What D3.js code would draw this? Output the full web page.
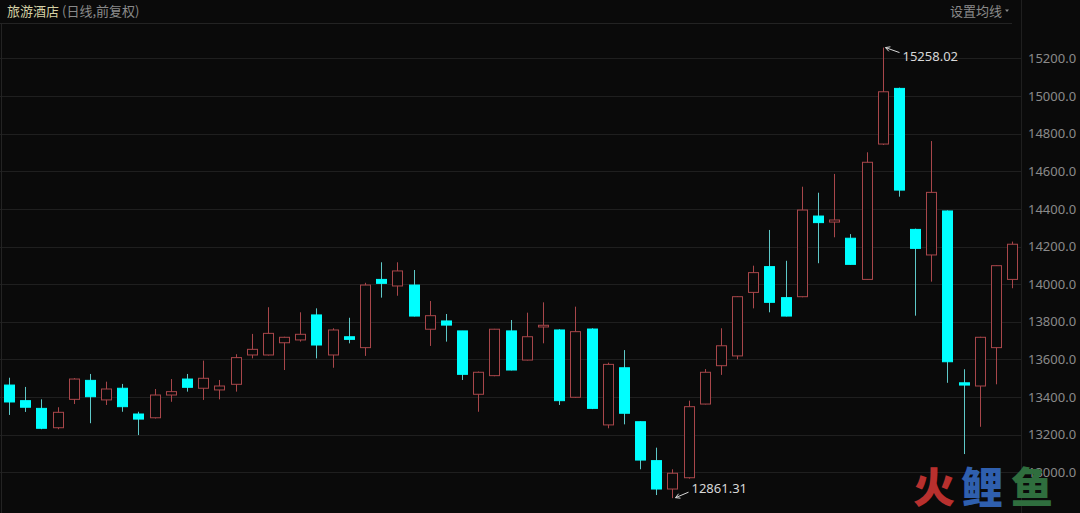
<!DOCTYPE html>
<html>
<head>
<meta charset="utf-8">
<script src="https://cdn.jsdelivr.net/npm/d3@7/dist/d3.min.js"></script>
<style>
  html, body { margin: 0; padding: 0; background: #0a0a0a; }
  svg { display: block; }
</style>
</head>
<body>
<svg id="chart" width="1080" height="513"></svg>
<script>
// ---- data ----
const days = d3.range(1, 64).map(i => "D" + i);
const open  = [13463,13380,13339,13236,13387,13488,13384,13446,13309,13289,13410,13495,13446,13437,13467,13623,13623,13688,13703,13836,13623,13720,13662,14025,13990,13995,13760,13804,13751,13414,13513,13751,13596,13772,13756,13398,13761,13251,13555,13268,13061,12910,12970,13362,13566,13618,13956,14093,13928,13933,14362,14330,14244,14025,14745,15041,14291,14155,14389,13475,13458,13662,14025];
const high  = [13502,13453,13387,13345,13500,13522,13481,13469,13321,13442,13495,13522,13593,13490,13627,13735,13877,13720,13850,13871,13765,13821,14007,14116,14116,14075,13910,13841,13751,13535,13762,13809,13848,13903,13760,13880,13765,13582,13649,13270,13130,13015,13380,13548,13765,13935,14098,14288,14124,14518,14486,14586,14266,14701,15258.02,15045,14295,14761,14392,13547,13720,14100,14226];
const low   = [13304,13320,13228,13228,13362,13260,13357,13321,13197,13285,13374,13428,13384,13387,13428,13605,13620,13543,13694,13605,13555,13685,13618,13928,13938,13828,13671,13694,13490,13321,13510,13541,13594,13685,13357,13395,13335,13233,13254,13015,12878,12861.31,12965,13360,13517,13600,13871,13850,13828,13930,14111,14249,14103,14023,14740,14465,13832,14013,13475,13096,13241,13467,13978];
const close = [13373,13345,13233,13318,13495,13401,13442,13348,13282,13410,13428,13451,13499,13458,13609,13653,13738,13717,13733,13676,13756,13706,13995,14004,14070,13830,13832,13782,13520,13531,13760,13543,13720,13781,13380,13747,13339,13573,13313,13064,12910,12994,13348,13531,13672,13933,14061,13903,13830,14394,14327,14341,14105,14648,15023,14500,14190,14488,13587,13463,13717,14098,14212];
const yTicks = [13000,13200,13400,13600,13800,14000,14200,14400,14600,14800,15000,15200];
const title = "旅游酒店";
const subtitle = "(日线,前复权)";
const maLabel = "设置均线";
const maxLabel = "15258.02";
const minLabel = "12861.31";

// ---- drawing ----
const W = 1080, H = 513;
const svg = d3.select("#chart");
const plotRight = 1021;

const x = d3.scaleBand().domain(days).range([-1.5, 1022.7]).paddingInner(0.3).paddingOuter(0.3);
const y = d3.scaleLinear().domain([12750, 15400]).range([519.1, 20.9]);

svg.append("rect").attr("width", W).attr("height", H).attr("fill", "#0a0a0a");

// grid lines
svg.append("g").selectAll("line").data(yTicks).join("line")
  .attr("x1", 0).attr("x2", plotRight)
  .attr("y1", d => Math.round(y(d)) + 0.5).attr("y2", d => Math.round(y(d)) + 0.5)
  .attr("stroke", "#1f1f1f").attr("stroke-width", 1);

// header separator and borders
svg.append("line").attr("x1", 0).attr("x2", 1012).attr("y1", 23.5).attr("y2", 23.5).attr("stroke", "#232323").attr("stroke-width", 1);
svg.append("line").attr("x1", 1.5).attr("x2", 1.5).attr("y1", 24).attr("y2", H).attr("stroke", "#232323").attr("stroke-width", 1);
svg.append("line").attr("x1", plotRight + 0.5).attr("x2", plotRight + 0.5).attr("y1", 0).attr("y2", H).attr("stroke", "#1f1f1f").attr("stroke-width", 1);

// y axis (right side)
const yAxis = d3.axisRight(y).tickValues(yTicks).tickFormat(d3.format(".1f")).tickSize(0).tickPadding(0);
const ag = svg.append("g").attr("transform", `translate(1028,0)`).call(yAxis);
ag.select(".domain").remove();
ag.selectAll("text").attr("fill", "#8a8a8a").attr("font-family", "'Noto Sans', 'DejaVu Sans', sans-serif").attr("font-size", 13);

// watermark (drawn beneath the candles, over the axis area like the reference)
const cjk = "'Noto Sans CJK SC', 'Noto Sans', sans-serif";
const wm = [["火", "#b8302e", 913], ["鲤", "#2f5fae", 961], ["鱼", "#2f6e3e", 1011]];
svg.append("g").selectAll("text").data(wm).join("text")
  .attr("x", d => d[2]).attr("y", 503).text(d => d[0])
  .attr("fill", d => d[1]).attr("font-family", cjk).attr("font-weight", 900).attr("font-size", 42);

// candles
const data = days.map((d, i) => ({ d, o: open[i], h: high[i], l: low[i], c: close[i] }));
const bw = x.bandwidth();
const upColor = "#a8464a", downColor = "#00ffff", downWick = "#5ec8c8";
const cg = svg.append("g");
const cx = d => Math.round(x(d.d) + bw / 2) + 0.5;

cg.selectAll("line.wick").data(data).join("line")
  .attr("class", "wick")
  .attr("x1", cx).attr("x2", cx)
  .attr("y1", d => y(d.h)).attr("y2", d => y(d.l))
  .attr("stroke", d => d.c >= d.o ? upColor : downWick).attr("stroke-width", 1);

cg.selectAll("rect.body").data(data).join("rect")
  .attr("class", "body")
  .attr("x", d => cx(d) - 5)
  .attr("width", 10)
  .attr("y", d => y(Math.max(d.o, d.c)))
  .attr("height", d => Math.max(1.5, Math.abs(y(d.o) - y(d.c))))
  .attr("fill", d => d.c >= d.o ? "#0a0a0a" : downColor)
  .attr("stroke", d => d.c >= d.o ? upColor : downColor)
  .attr("stroke-width", 1);

// annotations for max / min
const annColor = "#d8d8d8";
const font = "'Noto Sans', 'DejaVu Sans', sans-serif";
function arrow(x0, y0, x1, y1) {
  const a = Math.atan2(y0 - y1, x0 - x1), L = 5, s = 0.5;
  const p1 = [x1 + L * Math.cos(a + s), y1 + L * Math.sin(a + s)];
  const p2 = [x1 + L * Math.cos(a - s), y1 + L * Math.sin(a - s)];
  svg.append("path")
    .attr("d", `M${x0},${y0} L${x1},${y1} M${p1[0]},${p1[1]} L${x1},${y1} L${p2[0]},${p2[1]}`)
    .attr("fill", "none").attr("stroke", annColor).attr("stroke-width", 1);
}
const iMax = high.indexOf(d3.max(high));
const iMin = low.indexOf(d3.min(low));
const ax1 = cx(data[iMax]), ay1 = y(high[iMax]);
arrow(ax1 + 16, ay1 + 5, ax1 + 2, ay1);
svg.append("text").attr("x", ax1 + 19).attr("y", ay1 + 13).text(maxLabel)
  .attr("fill", annColor).attr("font-family", font).attr("font-size", 13);

const bx1 = cx(data[iMin]), by1 = y(low[iMin]);
arrow(bx1 + 16, by1 - 6, bx1 + 3, by1 - 0.5);
svg.append("text").attr("x", bx1 + 19).attr("y", by1 - 5).text(minLabel)
  .attr("fill", annColor).attr("font-family", font).attr("font-size", 13);

// header texts
svg.append("text").attr("x", 7).attr("y", 16).text(title)
  .attr("fill", "#d6d2a6").attr("font-family", cjk).attr("font-size", 13);
svg.append("text").attr("x", 62).attr("y", 16).text(subtitle)
  .attr("fill", "#8a8a8a").attr("font-family", cjk).attr("font-size", 13);
svg.append("text").attr("x", 950).attr("y", 16).text(maLabel)
  .attr("fill", "#8a8a8a").attr("font-family", cjk).attr("font-size", 13);
svg.append("path").attr("d", "M1005,9.5 L1009,9.5 L1007,12 Z").attr("fill", "#8a8a8a");
</script>
</body>
</html>
